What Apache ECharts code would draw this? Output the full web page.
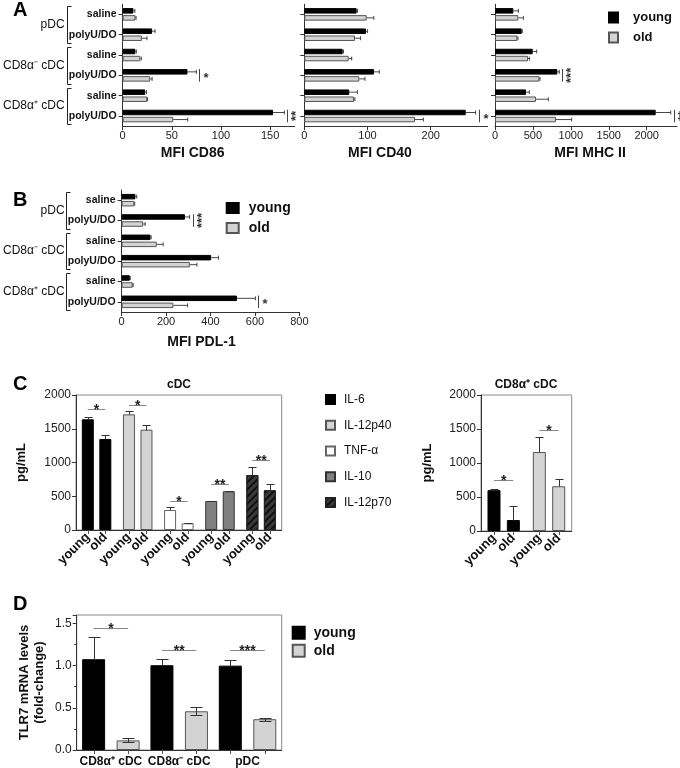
<!DOCTYPE html>
<html><head><meta charset="utf-8">
<script src="https://cdn.jsdelivr.net/npm/echarts@6/dist/echarts.min.js"></script>
<style>html,body{margin:0;padding:0;background:#fff}#c{width:680px;height:768px}</style>
</head><body><div id="c"></div>
<script>
// ================= DATA =================
const rowLabels = ['saline', 'polyU/DO', 'saline', 'polyU/DO', 'saline', 'polyU/DO'];
const groupLabels = ['pDC', 'CD8α⁻ cDC', 'CD8α⁺ cDC'];
const ageLabels = ['young', 'old'];

// Panel A – MFI CD86
const cd86Ticks = [0, 50, 100, 150];
const cd86Young = [11, 30, 13, 66, 23, 153];
const cd86YoungErr = [1.5, 3, 1, 9, 1.3, 11.5];
const cd86Old = [13, 19.6, 18, 28, 25, 51.5];
const cd86OldErr = [0.7, 5.2, 1, 2, 0.4, 14.7];
const cd86SigRows = [3, 5];
const cd86SigText = ['*', '**'];

// Panel A – MFI CD40
const cd40Ticks = [0, 100, 200];
const cd40Young = [82.8, 97.6, 60.7, 110.3, 71.2, 255.4];
const cd40YoungErr = [1.5, 2.5, 1.3, 8.4, 12.8, 15.6];
const cd40Old = [98.7, 80.2, 70.2, 87, 78.6, 175.2];
const cd40OldErr = [11.3, 8.8, 4.8, 9, 1.5, 13.2];
const cd40SigRows = [5];
const cd40SigText = ['*'];

// Panel A – MFI MHC II
const mhcTicks = [0, 500, 1000, 1500, 2000];
const mhcYoung = [242, 352, 497, 822, 409, 2119];
const mhcYoungErr = [66, 8, 53, 26, 44, 198];
const mhcOld = [308, 295, 435, 585, 541, 804];
const mhcOldErr = [66, 8, 18, 8, 162, 207];
const mhcSigRows = [3, 5];
const mhcSigText = ['***', '**'];

// Panel B – MFI PDL-1
const pdlTicks = [0, 200, 400, 600, 800];
const pdlYoung = [62, 285, 130, 403, 37, 519];
const pdlYoungErr = [6, 21, 3, 33, 2, 83];
const pdlOld = [57, 97, 158, 307, 50, 233];
const pdlOldErr = [2, 9, 29, 32, 2, 64];
const pdlSigRows = [1, 5];
const pdlSigText = ['***', '*'];

// Panel C – cDC cytokines (pg/mL)
const cytokines = ['IL-6', 'IL-12p40', 'TNF-α', 'IL-10', 'IL-12p70'];
const cdcYoung = [1640, 1713, 296, 430, 815];
const cdcYoungErr = [40, 45, 40, 5, 113];
const cdcOld = [1348, 1486, 99, 573, 588];
const cdcOldErr = [54, 69, 10, 5, 88];
const cdcSigY = [1787, 1852, 435, 676, 1037];
const cdcSigText = ['*', '*', '*', '**', '**'];

// Panel C – CD8α+ cDC cytokines (pg/mL)
const cd8Cytokines = ['IL-6', 'IL-12p40'];
const cd8Young = [600, 1161];
const cd8YoungErr = [24, 219];
const cd8Old = [161, 658];
const cd8OldErr = [205, 113];
const cd8SigY = [746, 1488];
const cd8SigText = ['*', '*'];

// Panel D – TLR7 mRNA levels (fold-change)
const cellTypes = ['CD8α⁺ cDC', 'CD8α⁻ cDC', 'pDC'];
const tlrYoung = [1.076, 1.005, 1.0];
const tlrYoungErr = [0.267, 0.075, 0.064];
const tlrOld = [0.114, 0.459, 0.365];
const tlrOldErr = [0.023, 0.047, 0.016];
const tlrSigY = [1.449, 1.186, 1.186];
const tlrSigText = ['*', '**', '***'];

// ================= STYLE =================
const FONT = '"Liberation Sans", Arial, Helvetica, sans-serif';
const YOUNG_STYLE = { color: '#000000', borderColor: '#000000', borderWidth: 1 };
const OLD_STYLE = { color: '#d3d3d3', borderColor: '#555555', borderWidth: 1 };
const CYTO_STYLE = [
  { color: '#000000', borderColor: '#000000', borderWidth: 1 },
  { color: '#d4d4d4', borderColor: '#555555', borderWidth: 1 },
  { color: '#ffffff', borderColor: '#666666', borderWidth: 1 },
  { color: '#808080', borderColor: '#333333', borderWidth: 1 },
  { color: '#3a3a3a', borderColor: '#222222', borderWidth: 1,
    decal: { symbol: 'rect', symbolSize: 1, dashArrayX: [1, 0], dashArrayY: [1.5, 2.5],
             rotation: -Math.PI / 4, color: 'rgba(0,0,0,0.75)' } }
];
const AX_COLOR = '#333';
const BW_H = 5.5, GAP_H = 0.28, DIST_H = BW_H * (1 + GAP_H);
const plainNum = v => String(v);

// ================= HELPERS =================
function hErrData(y, ye, o, oe) {
  const out = [];
  y.forEach((v, r) => { out.push([v, ye[r], r, 0]); out.push([o[r], oe[r], r, 1]); });
  return out;
}
function hErrRender(params, api) {
  const v = api.value(0), e = api.value(1), r = api.value(2), s = api.value(3);
  const a = api.coord([v, r]), b = api.coord([v + e, r]);
  const y = a[1] + (s === 0 ? -1 : 1) * DIST_H / 2;
  const st = { stroke: '#333', lineWidth: 0.9 };
  return { type: 'group', children: [
    { type: 'line', shape: { x1: a[0], y1: y, x2: b[0], y2: y }, style: st },
    { type: 'line', shape: { x1: b[0], y1: y - 2, x2: b[0], y2: y + 2 }, style: st }
  ] };
}
function hSigData(rows, y, ye, o, oe) {
  return rows.map(r => [Math.max(y[r] + ye[r], o[r] + oe[r]), r]);
}
function hSigRender(texts) {
  return function (params, api) {
    const p = api.coord([api.value(0), api.value(1)]);
    const x = Math.round(p[0] + 3) + 0.5;
    const h = DIST_H / 2 + BW_H / 2;
    const t = texts[params.dataIndex];
    const rot = t.length > 1;
    return { type: 'group', children: [
      { type: 'line', shape: { x1: x, y1: p[1] - h, x2: x, y2: p[1] + h }, style: { stroke: '#444', lineWidth: 1 } },
      { type: 'text', x: rot ? x + 8.5 : x + 4, y: rot ? p[1] : p[1] + 3, rotation: rot ? Math.PI / 2 : 0,
        style: { text: t, fill: '#333', font: 'bold 13px ' + FONT, align: rot ? 'center' : 'left', verticalAlign: 'middle' } }
    ] };
  };
}
function bracketRender(params, api) {
  const r = api.value(1);
  const c = api.coord([0, r]);
  const band = api.size([0, 1])[1];
  const top = Math.round(c[1] - band / 2 + 2) + 0.5, bot = Math.round(c[1] + band * 1.5 - 2) + 0.5;
  const x = Math.round(c[0] - 55.5) + 0.5;
  return { type: 'polyline', shape: { points: [[x + 4, top], [x, top], [x, bot], [x + 4, bot]] },
           style: { stroke: '#222', fill: null, lineWidth: 1 } };
}
function vErrData(y, ye, o, oe) {
  const out = [];
  y.forEach((v, i) => { out.push([i, v, ye[i], 0]); out.push([i, o[i], oe[i], 1]); });
  return out;
}
function vErrRender(half, cap, symOld) {
  return function (params, api) {
    const ci = api.value(0), v = api.value(1), e = api.value(2), s = api.value(3);
    const sym = symOld && s === 1;
    const base = api.coord([ci, 0]);
    const x = Math.round(base[0] + (s === 0 ? -half : half)) + 0.5;
    const top = Math.round(api.coord([ci, v + e])[1]) + 0.5;
    const bot = Math.round(api.coord([ci, sym ? v - e : v])[1]) + 0.5;
    const st = { stroke: '#333', lineWidth: 1 };
    const ch = [
      { type: 'line', shape: { x1: x, y1: bot, x2: x, y2: top }, style: st },
      { type: 'line', shape: { x1: x - cap / 2, y1: top, x2: x + cap / 2, y2: top }, style: st },
      { type: 'line', shape: { x1: x, y1: base[1], x2: x, y2: base[1] + 4 }, style: { stroke: '#555', lineWidth: 1 } }
    ];
    if (sym) ch.push({ type: 'line', shape: { x1: x - cap / 2, y1: bot, x2: x + cap / 2, y2: bot }, style: st });
    return { type: 'group', children: ch };
  };
}
function vSigRender(half, texts) {
  return function (params, api) {
    const p = api.coord([api.value(0), api.value(1)]);
    const y = Math.round(p[1]) + 0.5;
    return { type: 'group', children: [
      { type: 'line', shape: { x1: p[0] - half, y1: y, x2: p[0] + half, y2: y }, style: { stroke: '#888', lineWidth: 1 } },
      { type: 'text', x: p[0], y: y + 1, style: { text: texts[params.dataIndex], fill: '#222', font: 'bold 14px ' + FONT, align: 'center', verticalAlign: 'middle' } }
    ] };
  };
}

// ================= AXES =================
function valueX(gi, max, ticks, name, nameGap, namePad) {
  return {
    type: 'value', gridIndex: gi, min: 0, max: max,
    axisLine: { show: true, lineStyle: { color: AX_COLOR, width: 1 } },
    axisTick: { show: true, length: 4, customValues: ticks, lineStyle: { color: AX_COLOR } },
    axisLabel: { customValues: ticks, fontSize: 11, color: '#222', margin: 4, fontFamily: FONT, formatter: plainNum },
    splitLine: { show: false },
    name: name, nameLocation: 'middle', nameGap: nameGap,
    nameTextStyle: { fontSize: 14, fontWeight: 'bold', color: '#111', fontFamily: FONT, padding: namePad }
  };
}
function rowY(gi, showLabels) {
  return {
    type: 'category', gridIndex: gi, data: rowLabels, inverse: true,
    axisLine: { show: true, lineStyle: { color: AX_COLOR, width: 1 } },
    axisTick: { show: true, alignWithLabel: true, length: 4, lineStyle: { color: AX_COLOR } },
    axisLabel: { show: showLabels, interval: 0, fontSize: 10.5, fontWeight: 'bold', color: '#111', margin: 6, fontFamily: FONT },
    splitLine: { show: false }
  };
}
function groupY(gi, margin) {
  return {
    type: 'category', gridIndex: gi, data: groupLabels, inverse: true, position: 'left', offset: 0,
    axisLine: { show: false }, axisTick: { show: false },
    axisLabel: { interval: 0, fontSize: 12, color: '#111', margin: margin, fontFamily: FONT },
    splitLine: { show: false }
  };
}
function catX(gi, data, showLabels) {
  return {
    type: 'category', gridIndex: gi, data: data,
    axisLine: { show: true, lineStyle: { color: AX_COLOR, width: 1 } },
    axisTick: { show: false },
    axisLabel: { show: showLabels, interval: 0, fontSize: 12, fontWeight: 'bold', color: '#111', margin: 6, fontFamily: FONT },
    splitLine: { show: false }
  };
}
function valueY(gi, max, interval, name, nameGap, extra) {
  return Object.assign({
    type: 'value', gridIndex: gi, min: 0, max: max, interval: interval,
    axisLine: { show: true, lineStyle: { color: AX_COLOR, width: 1 } },
    axisTick: { show: true, length: 4, lineStyle: { color: AX_COLOR } },
    axisLabel: { fontSize: 12, color: '#222', margin: 5, fontFamily: FONT, showMaxLabel: true, formatter: plainNum },
    splitLine: { show: false },
    name: name, nameLocation: 'middle', nameGap: nameGap,
    nameTextStyle: { fontSize: 13, fontWeight: 'bold', color: '#111', fontFamily: FONT, lineHeight: 15 }
  }, extra || {});
}

// ================= SERIES =================
const series = [];
function hPanel(xi, yi, young, youngErr, old, oldErr, sigRows, sigText, withBracket) {
  series.push({ type: 'bar', name: ageLabels[0], xAxisIndex: xi, yAxisIndex: yi, data: young,
    barWidth: BW_H, barGap: (GAP_H * 100) + '%', itemStyle: YOUNG_STYLE, z: 2 });
  series.push({ type: 'bar', name: ageLabels[1], xAxisIndex: xi, yAxisIndex: yi, data: old,
    barWidth: BW_H, barGap: (GAP_H * 100) + '%', itemStyle: OLD_STYLE, z: 2 });
  series.push({ type: 'custom', name: 'err', xAxisIndex: xi, yAxisIndex: yi, z: 3, clip: false,
    data: hErrData(young, youngErr, old, oldErr), encode: { x: 0, y: 2 }, renderItem: hErrRender });
  series.push({ type: 'custom', name: 'sig', xAxisIndex: xi, yAxisIndex: yi, z: 3, clip: false,
    data: hSigData(sigRows, young, youngErr, old, oldErr), encode: { x: 0, y: 1 }, renderItem: hSigRender(sigText) });
  if (withBracket) {
    series.push({ type: 'custom', name: 'bracket', xAxisIndex: xi, yAxisIndex: yi, z: 3, clip: false,
      data: groupLabels.map((g, i) => [0, i * 2]), encode: { x: 0, y: 1 }, renderItem: bracketRender });
  }
}
hPanel(0, 0, cd86Young, cd86YoungErr, cd86Old, cd86OldErr, cd86SigRows, cd86SigText, true);
hPanel(1, 2, cd40Young, cd40YoungErr, cd40Old, cd40OldErr, cd40SigRows, cd40SigText, false);
hPanel(2, 3, mhcYoung, mhcYoungErr, mhcOld, mhcOldErr, mhcSigRows, mhcSigText, false);
hPanel(3, 4, pdlYoung, pdlYoungErr, pdlOld, pdlOldErr, pdlSigRows, pdlSigText, true);

function ageLabel(text) {
  return { show: true, position: 'bottom', distance: 5, rotate: 45, align: 'right', verticalAlign: 'middle',
    formatter: text, fontSize: 13, fontWeight: 'bold', color: '#111', fontFamily: FONT };
}
function cytoPanel(xi, yi, cats, young, youngErr, old, oldErr, sigY, sigText, bw, gap, cap) {
  cats.forEach((c, k) => {
    series.push({ type: 'bar', name: c, stack: 'young' + xi, xAxisIndex: xi, yAxisIndex: yi,
      data: cats.map((_, i) => i === k ? young[i] : '-'), barWidth: bw, barGap: (gap * 100) + '%',
      itemStyle: CYTO_STYLE[k], label: ageLabel(ageLabels[0]), z: 2 });
    series.push({ type: 'bar', name: c, stack: 'old' + xi, xAxisIndex: xi, yAxisIndex: yi,
      data: cats.map((_, i) => i === k ? old[i] : '-'), barWidth: bw, barGap: (gap * 100) + '%',
      itemStyle: CYTO_STYLE[k], label: ageLabel(ageLabels[1]), z: 2 });
  });
  const half = bw * (1 + gap) / 2;
  series.push({ type: 'custom', name: 'err', xAxisIndex: xi, yAxisIndex: yi, z: 3, clip: false,
    data: vErrData(young, youngErr, old, oldErr), encode: { x: 0, y: 1 }, renderItem: vErrRender(half, cap, false) });
  series.push({ type: 'custom', name: 'sig', xAxisIndex: xi, yAxisIndex: yi, z: 3, clip: false,
    data: sigY.map((v, i) => [i, v]), encode: { x: 0, y: 1 }, renderItem: vSigRender(half, sigText) });
}
cytoPanel(4, 6, cytokines, cdcYoung, cdcYoungErr, cdcOld, cdcOldErr, cdcSigY, cdcSigText, 12, 0.46, 8);
cytoPanel(5, 7, cd8Cytokines, cd8Young, cd8YoungErr, cd8Old, cd8OldErr, cd8SigY, cd8SigText, 13, 0.49, 8);

// Panel D
(function () {
  const bw = 23, gap = 0.5, half = bw * (1 + gap) / 2;
  series.push({ type: 'bar', name: ageLabels[0], xAxisIndex: 6, yAxisIndex: 8, data: tlrYoung,
    barWidth: bw, barGap: (gap * 100) + '%', itemStyle: YOUNG_STYLE, z: 2 });
  series.push({ type: 'bar', name: ageLabels[1], xAxisIndex: 6, yAxisIndex: 8, data: tlrOld,
    barWidth: bw, barGap: (gap * 100) + '%', itemStyle: OLD_STYLE, z: 2 });
  series.push({ type: 'custom', name: 'err', xAxisIndex: 6, yAxisIndex: 8, z: 3, clip: false,
    data: vErrData(tlrYoung, tlrYoungErr, tlrOld, tlrOldErr), encode: { x: 0, y: 1 }, renderItem: vErrRender(half, 12, true) });
  series.push({ type: 'custom', name: 'sig', xAxisIndex: 6, yAxisIndex: 8, z: 3, clip: false,
    data: tlrSigY.map((v, i) => [i, v]), encode: { x: 0, y: 1 }, renderItem: vSigRender(half, tlrSigText) });
})();

// ================= OPTION =================
const frame = { show: true, borderColor: '#8a8a8a', borderWidth: 1, backgroundColor: 'transparent' };
function legendBox(data, left, top, iw, ih, gap, fs, fw, pad) {
  return { data: data, orient: 'vertical', left: left, top: top, padding: 0, itemWidth: iw, itemHeight: ih,
    itemGap: gap, icon: 'rect', selectedMode: false,
    textStyle: { fontSize: fs, fontWeight: fw, color: '#111', fontFamily: FONT, lineHeight: ih, padding: [0, 0, 0, pad] } };
}
function letter(t, top) {
  return { text: t, left: 13, top: top, padding: 0, textStyle: { fontSize: 20, fontWeight: 'bold', color: '#000', fontFamily: FONT } };
}
const option = {
  animation: false,
  backgroundColor: '#fff',
  textStyle: { fontFamily: FONT },
  title: [
    letter('A', 0), letter('B', 190.5), letter('C', 374.5), letter('D', 594),
    { text: 'cDC', left: 179, top: 379, textAlign: 'center', padding: 0,
      textStyle: { fontSize: 12, fontWeight: 'bold', color: '#111', fontFamily: FONT } },
    { text: 'CD8α⁺ cDC', left: 526, top: 379, textAlign: 'center', padding: 0,
      textStyle: { fontSize: 12, fontWeight: 'bold', color: '#111', fontFamily: FONT } }
  ],
  legend: [
    legendBox(ageLabels, 608, 11, 9, 10, 7, 13, 'bold', 10),
    legendBox(ageLabels, 225.7, 201, 12, 10, 6, 14, 'bold', 5),
    legendBox(cytokines, 325, 393.5, 9, 9, 13.75, 12, 'normal', 4),
    legendBox(ageLabels, 291.7, 625.7, 12, 12, 4, 14, 'bold', 4)
  ],
  grid: [
    { left: 115.7, top: 4.2, width: 179, height: 122 },
    { left: 304.3, top: 4.2, width: 183.3, height: 122 },
    { left: 495, top: 4.2, width: 182, height: 122 },
    { left: 115, top: 190, width: 184.4, height: 122 },
    Object.assign({ left: 76, top: 395, width: 205.7, height: 135 }, frame),
    Object.assign({ left: 481, top: 395, width: 90.7, height: 136 }, frame),
    Object.assign({ left: 76.7, top: 615, width: 205, height: 135.7 }, frame)
  ],
  xAxis: [
    valueX(0, 175, cd86Ticks, 'MFI CD86', 20, [0, 32, 0, 0]),
    valueX(1, 290, cd40Ticks, 'MFI CD40', 20, [0, 32, 0, 0]),
    valueX(2, 2400, mhcTicks, 'MFI MHC II', 20, [0, 0, 0, 8]),
    valueX(3, 800, pdlTicks, 'MFI PDL-1', 23, [0, 18, 0, 0]),
    catX(4, cytokines, false),
    catX(5, cd8Cytokines, false),
    catX(6, cellTypes, true)
  ],
  yAxis: [
    rowY(0, true), groupY(0, 58), rowY(1, false), rowY(2, false), rowY(3, true), groupY(3, 57),
    valueY(4, 2000, 500, 'pg/mL', 47),
    valueY(5, 2000, 500, 'pg/mL', 46),
    valueY(6, 1.6, 0.5, 'TLR7 mRNA levels\n(fold-change)', 30, {
      minorTick: { show: true, splitNumber: 2, length: 2.5, lineStyle: { color: AX_COLOR } },
      axisLabel: { fontSize: 12, color: '#222', margin: 5, fontFamily: FONT, showMaxLabel: false,
                   formatter: v => v.toFixed(1) }
    })
  ],
  series: series
};
const chart = echarts.init(document.getElementById('c'), null, { renderer: 'canvas' });
chart.setOption(option);
</script>
</body></html>
